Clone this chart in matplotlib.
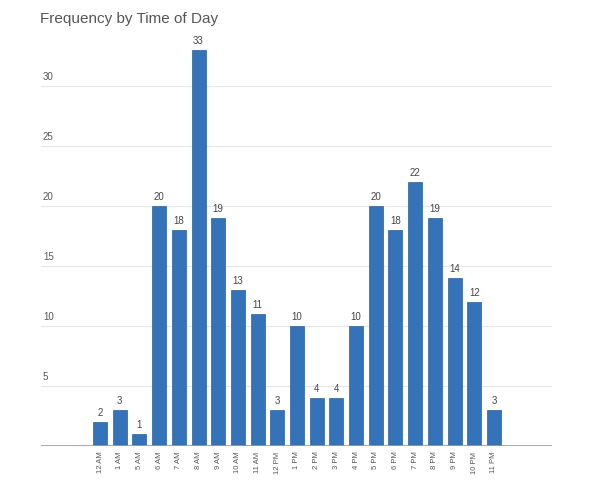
import matplotlib.pyplot as plt
from matplotlib.transforms import blended_transform_factory

hours = ['12 AM', '1 AM', '5 AM', '6 AM', '7 AM', '8 AM', '9 AM', '10 AM', '11 AM',
         '12 PM', '1 PM', '2 PM', '3 PM', '4 PM', '5 PM', '6 PM', '7 PM', '8 PM',
         '9 PM', '10 PM', '11 PM']
counts = [2, 3, 1, 20, 18, 33, 19, 13, 11, 3, 10, 4, 4, 10, 20, 18, 22, 19, 14, 12, 3]
grid_values = [5, 10, 15, 20, 25, 30]

plt.rcParams['font.family'] = ['Liberation Sans', 'DejaVu Sans']

fig = plt.figure(figsize=(6.0, 4.84), dpi=100)
ax = fig.add_axes([41 / 600, 38 / 484, 511 / 600, 420 / 484])

# gridlines and their labels sitting above the line
for v in grid_values:
    ax.axhline(v, color='#e6e6e6', lw=0.8, zorder=0)
trans = blended_transform_factory(ax.transAxes, ax.transData)
for v in grid_values:
    ax.text(0.004, v + 0.35, str(v), transform=trans, fontsize=7,
            color='#555555', ha='left', va='bottom')

x = list(range(len(hours)))
ax.bar(x, counts, width=0.71, color='#3573b8', edgecolor='#2a5f9e',
       linewidth=0.5, zorder=2)
for xi, c in zip(x, counts):
    ax.text(xi, c + 0.35, str(c), fontsize=7, color='#444444',
            ha='center', va='bottom')

ax.axhline(0, color='#9a9a9a', lw=1.2, zorder=3)

ax.set_xlim(-3.0, 22.95)
ax.set_ylim(0, 35)
ax.set_xticks(x)
ax.set_xticklabels(hours, rotation=90, fontsize=5.5, color='#555555')
ax.tick_params(axis='x', length=0, pad=4)
ax.set_yticks([])
for s in ax.spines.values():
    s.set_visible(False)

fig.text(40 / 600, 1 - 19 / 484, 'Frequency by Time of Day', fontsize=11,
         color='#555555', ha='left', va='center')

fig.savefig('out.png', dpi=100, facecolor='white')
